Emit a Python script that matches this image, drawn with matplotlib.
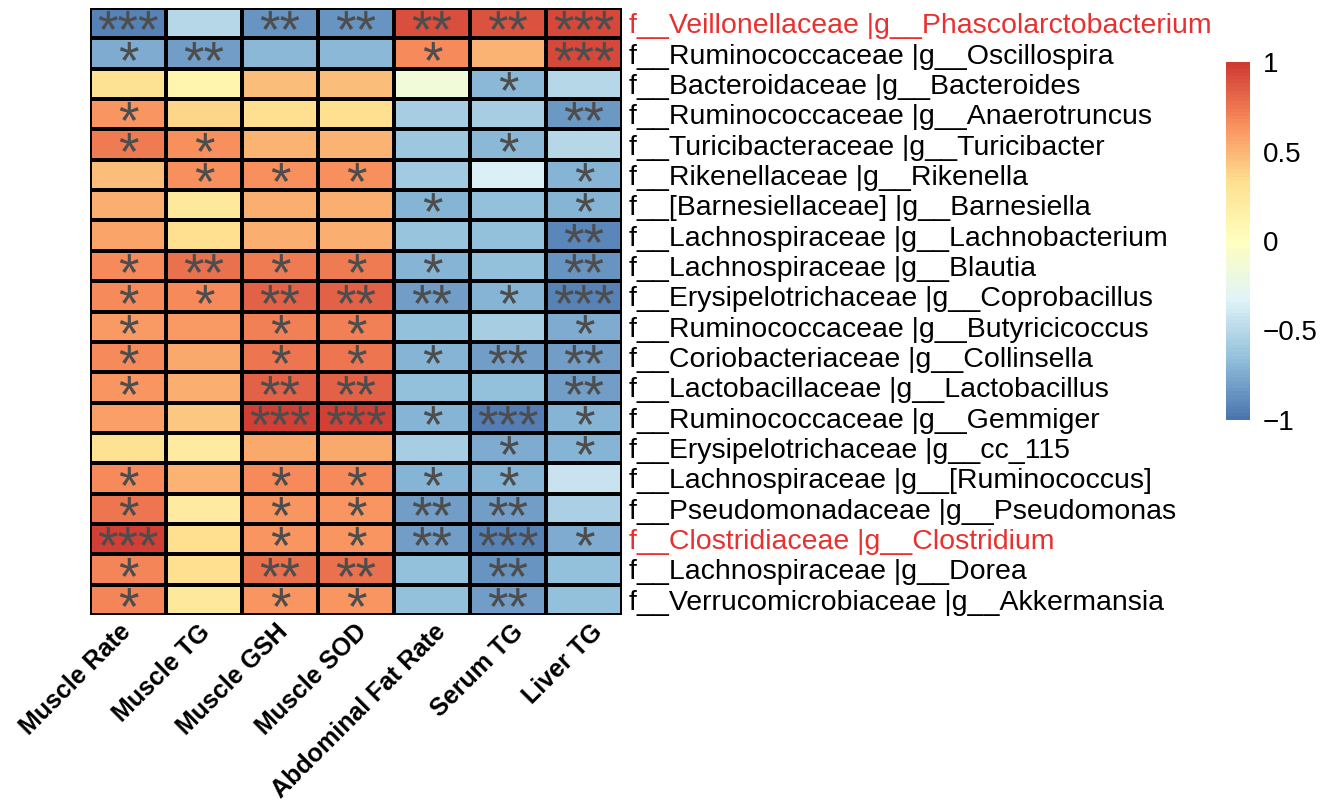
import numpy as np
import matplotlib.pyplot as plt
from matplotlib.colors import LinearSegmentedColormap
from matplotlib.transforms import ScaledTranslation

plt.rcParams['font.family'] = ['Liberation Sans', 'DejaVu Sans']

traits = ['Muscle Rate', 'Muscle TG', 'Muscle GSH', 'Muscle SOD',
          'Abdominal Fat Rate', 'Serum TG', 'Liver TG']

taxa = ['f__Veillonellaceae |g__Phascolarctobacterium',
        'f__Ruminococcaceae |g__Oscillospira',
        'f__Bacteroidaceae |g__Bacteroides',
        'f__Ruminococcaceae |g__Anaerotruncus',
        'f__Turicibacteraceae |g__Turicibacter',
        'f__Rikenellaceae |g__Rikenella',
        'f__[Barnesiellaceae] |g__Barnesiella',
        'f__Lachnospiraceae |g__Lachnobacterium',
        'f__Lachnospiraceae |g__Blautia',
        'f__Erysipelotrichaceae |g__Coprobacillus',
        'f__Ruminococcaceae |g__Butyricicoccus',
        'f__Coriobacteriaceae |g__Collinsella',
        'f__Lactobacillaceae |g__Lactobacillus',
        'f__Ruminococcaceae |g__Gemmiger',
        'f__Erysipelotrichaceae |g__cc_115',
        'f__Lachnospiraceae |g__[Ruminococcus]',
        'f__Pseudomonadaceae |g__Pseudomonas',
        'f__Clostridiaceae |g__Clostridium',
        'f__Lachnospiraceae |g__Dorea',
        'f__Verrucomicrobiaceae |g__Akkermansia']

highlight = ['f__Veillonellaceae |g__Phascolarctobacterium',
             'f__Clostridiaceae |g__Clostridium']

# correlation coefficients
corr = np.array([
    [-0.93, -0.52, -0.86, -0.86,  0.90,  0.88,  0.92],
    [-0.76, -0.82, -0.68, -0.68,  0.66,  0.50,  0.93],
    [ 0.30,  0.10,  0.47,  0.47, -0.15, -0.70, -0.52],
    [ 0.63,  0.36,  0.33,  0.33, -0.58, -0.56, -0.84],
    [ 0.72,  0.64,  0.50,  0.50, -0.61, -0.70, -0.52],
    [ 0.47,  0.64,  0.64,  0.64, -0.60, -0.36, -0.72],
    [ 0.52,  0.25,  0.52,  0.52, -0.72, -0.66, -0.72],
    [ 0.57,  0.33,  0.52,  0.52, -0.64, -0.66, -0.90],
    [ 0.66,  0.76,  0.72,  0.72, -0.72, -0.66, -0.86],
    [ 0.67,  0.67,  0.83,  0.83, -0.80, -0.72, -0.92],
    [ 0.61,  0.61,  0.70,  0.70, -0.66, -0.58, -0.75],
    [ 0.67,  0.55,  0.74,  0.74, -0.72, -0.82, -0.82],
    [ 0.63,  0.52,  0.83,  0.83, -0.66, -0.66, -0.82],
    [ 0.58,  0.42,  0.96,  0.96, -0.72, -0.95, -0.72],
    [ 0.30,  0.20,  0.55,  0.55, -0.57, -0.75, -0.72],
    [ 0.66,  0.50,  0.67,  0.67, -0.72, -0.72, -0.44],
    [ 0.74,  0.20,  0.63,  0.63, -0.82, -0.82, -0.55],
    [ 0.96,  0.33,  0.63,  0.63, -0.82, -0.93, -0.76],
    [ 0.69,  0.32,  0.76,  0.76, -0.66, -0.86, -0.66],
    [ 0.69,  0.25,  0.63,  0.63, -0.65, -0.82, -0.65],
])

stars = [
    ['***', '', '**', '**', '**', '**', '***'],
    ['*', '**', '', '', '*', '', '***'],
    ['', '', '', '', '', '*', ''],
    ['*', '', '', '', '', '', '**'],
    ['*', '*', '', '', '', '*', ''],
    ['', '*', '*', '*', '', '', '*'],
    ['', '', '', '', '*', '', '*'],
    ['', '', '', '', '', '', '**'],
    ['*', '**', '*', '*', '*', '', '**'],
    ['*', '*', '**', '**', '**', '*', '***'],
    ['*', '', '*', '*', '', '', '*'],
    ['*', '', '*', '*', '*', '**', '**'],
    ['*', '', '**', '**', '', '', '**'],
    ['', '', '***', '***', '*', '***', '*'],
    ['', '', '', '', '', '*', '*'],
    ['*', '', '*', '*', '*', '*', ''],
    ['*', '', '*', '*', '**', '**', ''],
    ['***', '', '*', '*', '**', '***', '*'],
    ['*', '', '**', '**', '', '**', ''],
    ['*', '', '*', '*', '', '**', ''],
]

cmap = LinearSegmentedColormap.from_list(
    'rdylbu', ['#4A74AE', '#91BFDB', '#E0F3F8', '#FFFFBF',
               '#FEE090', '#F88D5C', '#CF3A33'], N=100)

fig = plt.figure(figsize=(13.29, 8.07), dpi=100)
ax = fig.add_axes([90/1329, 1 - 615/807, 532/1329, 607/807])

nr, nc = corr.shape
mesh = ax.pcolormesh(np.arange(nc + 1), np.arange(nr + 1), corr, cmap=cmap,
                     vmin=-1, vmax=1, edgecolors='black', linewidth=1.5)
ax.set_xlim(0, nc)
ax.set_ylim(nr, 0)

for i in range(nr):
    for j in range(nc):
        if stars[i][j]:
            ax.text(j + 0.5, i + 1.30, stars[i][j], ha='center', va='baseline',
                    fontsize=38, color='#4D4D4D')

# column labels, spread a little wider than the columns as in the reference
ax.set_xticks([])
for j, name in enumerate(traits):
    off = ScaledTranslation((-9 + 2.5 * j) / 100, -5 / 100, fig.dpi_scale_trans)
    ax.text(j + 0.5, 0, name, transform=ax.get_xaxis_transform() + off,
            rotation=45, ha='right', va='top', rotation_mode='anchor',
            fontsize=18, fontweight='bold')

ax.set_yticks(np.arange(nr) + 0.5)
ax.set_yticklabels(taxa, fontsize=20.5)
ax.yaxis.tick_right()
ax.tick_params(length=0, pad=5)
for lab in ax.get_yticklabels():
    if lab.get_text() in highlight:
        lab.set_color('#E8312F')
for s in ax.spines.values():
    s.set_visible(False)

cax = fig.add_axes([1226/1329, 1 - 420/807, 24/1329, 358/807])
cb = fig.colorbar(mesh, cax=cax, ticks=[-1, -0.5, 0, 0.5, 1])
cb.ax.set_yticklabels(['\u22121', '\u22120.5', '0', '0.5', '1'])
cb.ax.tick_params(length=0, labelsize=20, pad=9)
cb.outline.set_visible(False)

fig.savefig('out.png', dpi=100)
